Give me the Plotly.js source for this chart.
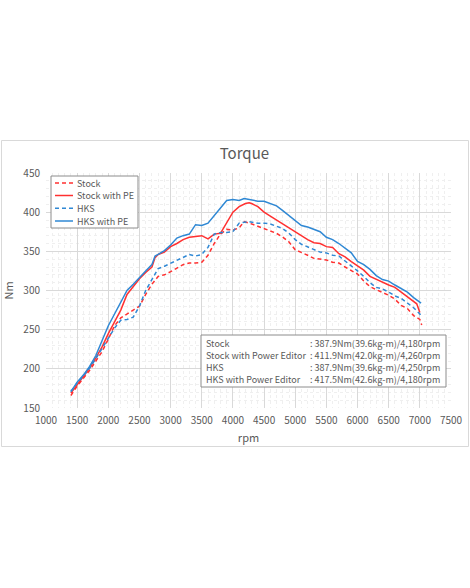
<!DOCTYPE html>
<html>
<head>
<meta charset="utf-8">
<script src="https://cdn.plot.ly/plotly-3.0.1.min.js"></script>
<style>html,body{margin:0;padding:0;background:#fff;}#chart{width:470px;height:588px;}</style>
</head>
<body>
<div id="chart"></div>
<script>
// Stock (dashed red)
const stockRpm = [1400,1500,1600,1700,1800,1900,2000,2100,2200,2300,2400,2500,2600,2700,2800,2900,3000,3100,3200,3300,3400,3500,3600,3700,3800,3900,4000,4100,4180,4300,4400,4500,4600,4700,4800,4900,5000,5100,5200,5300,5400,5500,5600,5700,5800,5900,6000,6100,6200,6300,6400,6500,6600,6700,6800,6900,7000,7030];
const stockNm  = [166,178,188,198,210,222,238,255,265,270,275,280,295,308,318,320,324,329,333,335,335,336,345,360,372,378,377,380,387.9,385,382,378,375,373,368,362,352,349,345,341,340,339,336,335,330,325,321,312,305,301,298,294,289,281,277,268,263,256];

// Stock with PE (solid red)
const stockPeRpm = [1400,1500,1600,1700,1800,1900,2000,2100,2200,2300,2400,2500,2600,2700,2750,2800,2900,3000,3100,3200,3300,3400,3500,3600,3700,3800,3900,4000,4100,4200,4260,4300,4400,4500,4600,4700,4800,4900,5000,5100,5200,5300,5400,5500,5600,5700,5800,5900,6000,6100,6200,6300,6400,6500,6600,6700,6800,6900,6950,7000];
const stockPeNm  = [169,180,190,201,214,228,245,260,275,295,305,315,323,330,342,346,349,356,360,365,368,369,370,366,372,373,386,400,407,411,411.9,411,407,400,395,390,385,379,375,370,365,361,360,356,355,347,343,337,332,326,318,314,311,307,304,298,291,286,283,272];

// HKS (dashed blue)
const hksRpm = [1400,1500,1600,1700,1800,1900,2000,2100,2200,2300,2400,2500,2600,2700,2800,2900,3000,3100,3200,3300,3400,3500,3600,3700,3800,3900,4000,4100,4250,4400,4500,4600,4700,4800,4900,5000,5100,5200,5300,5400,5500,5600,5700,5800,5900,6000,6100,6200,6300,6400,6500,6600,6700,6800,6900,7000,7030];
const hksNm  = [171,182,191,201,213,226,240,252,262,263,266,280,300,315,328,331,335,338,342,346,344,346,355,372,374,374,375,386,387.9,386,386,385,382,379,373,365,359,356,352,349,348,345,344,338,331,325,318,310,304,302,298,293,290,284,278,270,266];

// HKS with PE (solid blue)
const hksPeRpm = [1400,1500,1600,1700,1800,1900,2000,2100,2200,2300,2400,2500,2600,2700,2750,2800,2900,3000,3100,3200,3300,3400,3500,3600,3700,3800,3900,4000,4100,4180,4300,4400,4500,4600,4700,4800,4900,5000,5100,5200,5300,5400,5500,5600,5700,5800,5900,6000,6100,6200,6300,6400,6500,6600,6700,6800,6900,7000,7020];
const hksPeNm  = [171,183,192,203,217,235,255,270,285,300,308,317,325,333,344,346,351,358,367,370,372,384,383,386,396,406,415,416,415,417.5,416,414,414,411,408,402,396,390,383,381,378,375,368,365,360,354,348,337,333,327,319,314,312,307,303,298,291,285,284];

const seriesNames = ['Stock','Stock with PE','HKS','HKS with PE'];
const infoLabels = ['Stock','Stock with Power Editor','HKS','HKS with Power Editor'];
const infoValues = [': 387.9Nm(39.6kg-m)/4,180rpm', ': 411.9Nm(42.0kg-m)/4,260rpm', ': 387.9Nm(39.6kg-m)/4,250rpm', ': 417.5Nm(42.6kg-m)/4,180rpm'];

const RED = '#FF3030', BLUE = '#2F88D4';
const FONT = '"Noto Sans CJK JP", "Noto Sans", sans-serif';
const TXT = '#595959';
const DASH = '4px,3px';
const colors = [RED, RED, BLUE, BLUE];
const dashes = [DASH, 'solid', DASH, 'solid'];

const traces = [
  {x: stockRpm, y: stockNm, name: seriesNames[0], mode: 'lines', line: {color: colors[0], width: 1.5, dash: dashes[0]}},
  {x: stockPeRpm, y: stockPeNm, name: seriesNames[1], mode: 'lines', line: {color: colors[1], width: 1.5, dash: dashes[1]}},
  {x: hksRpm, y: hksNm, name: seriesNames[2], mode: 'lines', line: {color: colors[2], width: 1.5, dash: dashes[2]}},
  {x: hksPeRpm, y: hksPeNm, name: seriesNames[3], mode: 'lines', line: {color: colors[3], width: 1.5, dash: dashes[3]}}
];

const L = 46, R = 451, T = 173, B = 408;
const px = v => (v - L) / (R - L);
const py = v => (B - v) / (B - T);

const shapes = [
  {type: 'rect', xref: 'paper', yref: 'paper', x0: px(1.5), x1: px(468.5), y0: py(446.5), y1: py(140.5), line: {color: '#D9D9D9', width: 1}, fillcolor: 'rgba(0,0,0,0)', layer: 'below'},
  {type: 'rect', xref: 'paper', yref: 'paper', x0: px(201), x1: px(446), y0: py(387), y1: py(335), line: {color: '#8C8C8C', width: 1}, fillcolor: '#fff', layer: 'above'},
  {type: 'rect', xref: 'paper', yref: 'paper', x0: px(51), x1: px(138), y0: py(228), y1: py(176), line: {color: '#8C8C8C', width: 1}, fillcolor: '#fff', layer: 'above'}
];
const annotations = [];
const legY = [183, 195.5, 208.3, 221];
for (let i = 0; i < 4; i++) {
  shapes.push({type: 'line', xref: 'paper', yref: 'paper', x0: px(55), x1: px(73), y0: py(legY[i]), y1: py(legY[i]), line: {color: colors[i], width: 1.5, dash: dashes[i]}, layer: 'above'});
  annotations.push({xref: 'paper', yref: 'paper', x: px(76), y: py(legY[i]), xanchor: 'left', yanchor: 'middle', showarrow: false, borderpad: 0,
    text: seriesNames[i], font: {family: FONT, size: 9, color: TXT}});
}
const lineY = [343, 355, 367, 379];
for (let i = 0; i < 4; i++) {
  annotations.push({xref: 'paper', yref: 'paper', x: px(205), y: py(lineY[i]), xanchor: 'left', yanchor: 'middle', showarrow: false, borderpad: 0,
    text: infoLabels[i], font: {family: FONT, size: 9, color: TXT}});
  annotations.push({xref: 'paper', yref: 'paper', x: px(309), y: py(lineY[i]), xanchor: 'left', yanchor: 'middle', showarrow: false, borderpad: 0,
    text: infoValues[i], font: {family: FONT, size: 9, color: TXT}});
}

const layout = {
  width: 470, height: 588,
  margin: {l: L, r: 470 - R, t: T, b: 588 - B},
  paper_bgcolor: '#fff', plot_bgcolor: '#fff',
  font: {family: FONT, color: TXT, size: 10},
  title: {text: 'Torque', font: {family: FONT, size: 15, color: TXT}, x: 0.52, xanchor: 'center', y: 1 - 154/588, yanchor: 'middle'},
  xaxis: {range: [1000, 7500], dtick: 500, tick0: 1000, showgrid: true, gridcolor: '#D9D9D9', gridwidth: 1, zeroline: false, showline: false,
    ticks: 'outside', ticklen: 3, tickcolor: 'rgba(0,0,0,0)', tickfont: {family: FONT, size: 10, color: TXT},
    minor: {dtick: 100, showgrid: true, gridcolor: '#EFEFEF', griddash: 'dot', gridwidth: 1},
    title: {text: 'rpm', font: {family: FONT, size: 11, color: TXT}, standoff: 8}},
  yaxis: {range: [150, 450], dtick: 50, tick0: 150, showgrid: true, gridcolor: '#D9D9D9', gridwidth: 1, zeroline: false, showline: false,
    ticks: 'outside', ticklen: 3, tickcolor: 'rgba(0,0,0,0)', tickfont: {family: FONT, size: 10, color: TXT},
    minor: {dtick: 10, showgrid: true, gridcolor: '#EFEFEF', griddash: 'dot', gridwidth: 1},
    title: {text: 'Nm', font: {family: FONT, size: 11, color: TXT}, standoff: 8}},
  showlegend: false,
  shapes: shapes,
  annotations: annotations
};

Plotly.newPlot('chart', traces, layout, {displayModeBar: false, staticPlot: true});
</script>
</body>
</html>
